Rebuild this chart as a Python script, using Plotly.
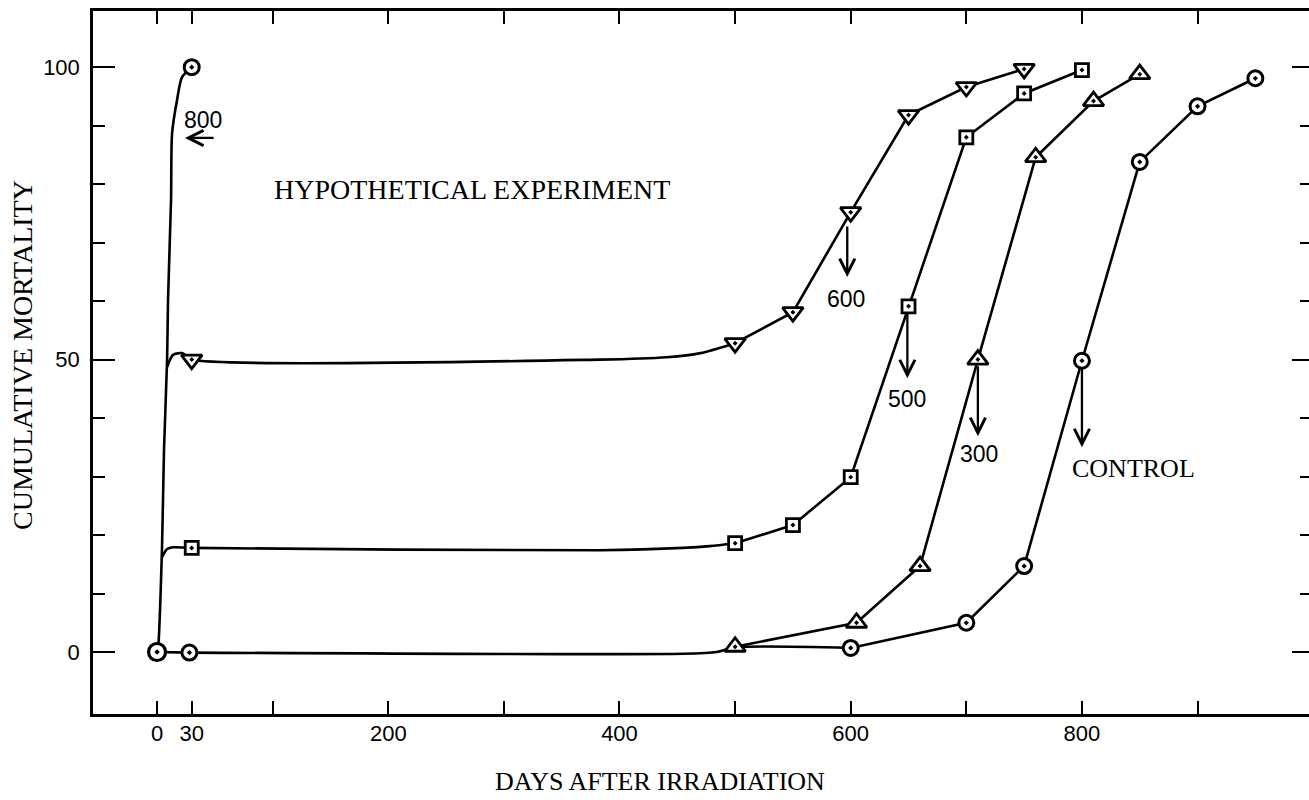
import plotly.graph_objects as go

# ---------------- data ----------------
# 800 R group: starts at the shared origin, all dead by day 30
days_800 = [0, 30]
mort_800 = [0, 100]
# hand-drawn rise of the 800 curve
trunk_days = [0, 1, 4.3, 6, 8.7, 9.5, 12.1, 13, 17.3, 21.6, 30]
trunk_mort = [0, 0.9, 17.8, 34.5, 50, 60.2, 77.3, 88.7, 94.4, 98.3, 100]

# 600 R group
days_600 = [30, 500, 550, 600, 650, 700, 750]
mort_600 = [50, 52.8, 58.1, 75.2, 91.8, 96.6, 99.7]
lead_600_days = [8.7, 13.8, 21.6, 30, 383, 441, 470, 500]
lead_600_mort = [48.7, 50.8, 51.1, 50, 50.0, 50.4, 51.1, 52.8]

# 500 R group
days_500 = [30, 500, 550, 600, 650, 700, 750, 800]
mort_500 = [17.8, 18.6, 21.7, 29.9, 59.1, 88.0, 95.5, 99.5]
lead_500_days = [4.3, 8.7, 13.8, 30, 383, 455, 478, 500]
lead_500_mort = [16.2, 17.6, 17.9, 17.8, 17.4, 17.8, 18.1, 18.6]

# 300 R group
days_300 = [500, 605, 660, 710, 760, 810, 850]
mort_300 = [0.9, 5.0, 14.7, 50.0, 84.6, 94.2, 98.8]

# Control group
days_ctl = [0, 28, 600, 700, 750, 800, 850, 900, 950]
mort_ctl = [0, -0.1, 0.7, 5.0, 14.7, 49.8, 83.8, 93.3, 98.1]
lead_ctl_days = [28, 455, 484, 500, 600]
lead_ctl_mort = [-0.1, -0.3, 0.0, 0.8, 0.7]

# axis ticks
x_tickvals = [0, 30, 100, 200, 300, 400, 500, 600, 700, 800, 900]
x_ticktext = ["0", "30", "", "200", "", "400", "", "600", "", "800", ""]
y_major = [0, 50, 100]
y_major_text = ["0", "50", "100"]
y_minor = [10, 20, 30, 40, 60, 70, 80, 90]

# labels with arrows: (text, label x, label y, arrow head x, head y, tail x, tail y)
dose_labels = [
    ("800", 39.8, 90.9, 24.2, 87.9, 50.2, 87.9),
    ("600", 596, 60.4, 597, 64.1, 597, 73.0),
    ("500", 649, 43.3, 649, 46.8, 649, 58.1),
    ("300", 711, 33.8, 710, 36.9, 710, 49.1),
]
control_label = ("CONTROL", 845, 31.3, 800, 35.0, 800, 48.7)

# ---------------- styling ----------------
INK = "#000000"
LW = 2.6
SANS = "Liberation Sans, Arial, sans-serif"
SERIF = "Liberation Serif, Times New Roman, serif"

fig = go.Figure()

def line_trace(x, y, shape="linear"):
    fig.add_trace(go.Scatter(x=x, y=y, mode="lines",
                             line=dict(color=INK, width=LW, shape=shape,
                                       smoothing=0.7 if shape == "spline" else None),
                             showlegend=False, hoverinfo="skip"))

def marker_trace(x, y, symbol, size, lw=2.8):
    fig.add_trace(go.Scatter(x=x, y=y, mode="markers",
                             marker=dict(symbol=symbol, size=size, color="white",
                                         line=dict(color=INK, width=lw)),
                             showlegend=False, hoverinfo="skip"))

# lines
line_trace(trunk_days, trunk_mort, "spline")
line_trace(lead_600_days, lead_600_mort, "spline")
line_trace(days_600[1:], mort_600[1:])
line_trace(lead_500_days, lead_500_mort, "spline")
line_trace(days_500[1:], mort_500[1:])
line_trace(days_300, mort_300)
line_trace(days_ctl[:2], mort_ctl[:2])
line_trace(lead_ctl_days, lead_ctl_mort, "spline")
line_trace(days_ctl[2:], mort_ctl[2:])

# markers
marker_trace(days_600, mort_600, "triangle-down-dot", 18)
marker_trace(days_500, mort_500, "square-dot", 13)
marker_trace(days_300, mort_300, "triangle-up-dot", 18)
marker_trace(days_ctl[1:], mort_ctl[1:], "circle-dot", 15, lw=3)
marker_trace(days_800[1:], mort_800[1:], "circle-dot", 15, lw=3)
marker_trace(days_ctl[:1], mort_ctl[:1], "circle-dot", 17, lw=3.2)

# dummy trace for the right-hand tick axis
fig.add_trace(go.Scatter(x=[], y=[], yaxis="y2", showlegend=False, hoverinfo="skip"))

annotations = []
for text, lx, ly, hx, hy, tx, ty in dose_labels + [control_label]:
    annotations.append(dict(x=hx, y=hy, ax=tx, ay=ty, xref="x", yref="y",
                            axref="x", ayref="y", text="", showarrow=True,
                            arrowhead=5, arrowsize=1.3, arrowwidth=2.3,
                            arrowcolor=INK, standoff=0, startstandoff=0))
    font = dict(family=SERIF if text == "CONTROL" else SANS,
                size=26 if text == "CONTROL" else 23, color=INK)
    annotations.append(dict(x=lx, y=ly, xref="x", yref="y", text=text,
                            showarrow=False, font=font,
                            xanchor="center", yanchor="middle"))

annotations.append(dict(x=99.5, y=79.1, xref="x", yref="y",
                        text="HYPOTHETICAL EXPERIMENT", showarrow=False,
                        xanchor="left", yanchor="middle",
                        font=dict(family=SERIF, size=28, color=INK)))

W, H = 1309, 800
L, R, T, B = 93, 0, 11, 86
def px_to_paper_x(p):
    return (p - L) / (W - L - R)
def px_to_paper_y(p):
    return (H - B - p) / (H - T - B)

annotations.append(dict(x=px_to_paper_x(660), y=px_to_paper_y(781), xref="paper", yref="paper",
                        text="DAYS AFTER IRRADIATION", showarrow=False,
                        xanchor="center", yanchor="middle",
                        font=dict(family=SERIF, size=26, color=INK)))
annotations.append(dict(x=px_to_paper_x(22), y=px_to_paper_y(355), xref="paper", yref="paper",
                        text="CUMULATIVE MORTALITY", showarrow=False, textangle=-90,
                        xanchor="center", yanchor="middle",
                        font=dict(family=SERIF, size=28, color=INK)))

fig.update_layout(
    width=W, height=H,
    margin=dict(l=L, r=R, t=T, b=B, pad=0),
    paper_bgcolor="white", plot_bgcolor="white",
    showlegend=False,
    annotations=annotations,
    xaxis=dict(range=[-55.4, 996.4], tickmode="array", tickvals=x_tickvals,
               ticktext=x_ticktext, ticks="inside", ticklen=13, tickwidth=2.2,
               tickcolor=INK, showline=True, linewidth=2.5, linecolor=INK,
               mirror="ticks", showgrid=False, zeroline=False,
               ticklabelstandoff=-2,
               tickfont=dict(family=SANS, size=22, color=INK)),
    yaxis=dict(range=[-10.6, 109.6], tickmode="array", tickvals=y_major,
               ticktext=y_major_text, ticks="inside", ticklen=22, tickwidth=2.2,
               tickcolor=INK, showline=True, linewidth=2.5, linecolor=INK,
               showgrid=False, zeroline=False, ticklabelstandoff=6,
               minor=dict(tickmode="array", tickvals=y_minor, ticks="inside",
                          ticklen=12, tickwidth=2.2, tickcolor=INK, showgrid=False),
               tickfont=dict(family=SANS, size=22, color=INK)),
    yaxis2=dict(range=[-10.6, 109.6], overlaying="y", side="right",
                tickmode="array", tickvals=y_major, ticks="inside", ticklen=17,
                tickwidth=2.2, tickcolor=INK, showline=False, showgrid=False,
                zeroline=False, showticklabels=False,
                minor=dict(tickmode="array", tickvals=y_minor, ticks="inside",
                           ticklen=9, tickwidth=2.2, tickcolor=INK, showgrid=False)),
)

fig.write_html("out.html", config={"displayModeBar": False})
